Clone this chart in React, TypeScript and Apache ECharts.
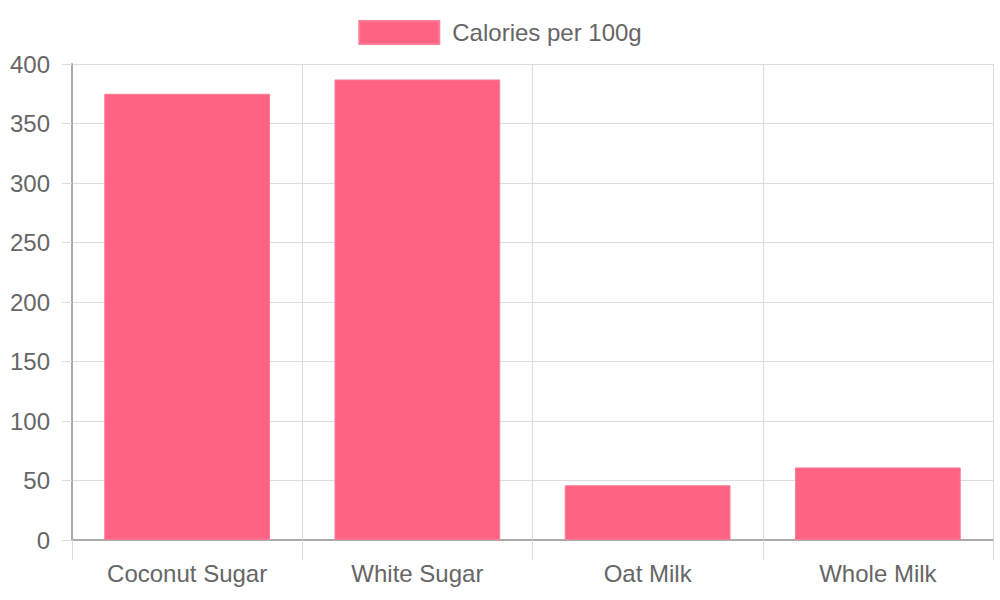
import React, { useEffect, useRef } from "react";
import * as echarts from "echarts";

const categories = ["Coconut Sugar", "White Sugar", "Oat Milk", "Whole Milk"];
const calories = [375, 387, 46, 61];
const seriesName = "Calories per 100g";

export default function App() {
  const ref = useRef<HTMLDivElement>(null);
  useEffect(() => {
    document.body.style.margin = "0";
    const chart = echarts.init(ref.current!, null, { renderer: "svg" });
    const font = "'Liberation Sans', Arial, sans-serif";
    chart.setOption({
      animation: false,
      textStyle: { fontFamily: font },
      legend: {
        top: 15,
        left: "center",
        itemWidth: 80,
        itemHeight: 23,
        icon: "rect",
        textStyle: { fontSize: 24, color: "#666", fontFamily: font, padding: [0, 0, 0, 8] },
        data: [seriesName],
      },
      grid: { left: 72, right: 7, top: 64, bottom: 60, containLabel: false },
      xAxis: {
        type: "category",
        data: categories,
        boundaryGap: true,
        axisLine: { show: true, lineStyle: { color: "#aaa", width: 2 } },
        axisTick: { show: true, interval: 0, length: 20, lineStyle: { color: "#ddd" } },
        splitLine: { show: true, interval: 0, lineStyle: { color: "#ddd" } },
        axisLabel: { fontSize: 24, color: "#666", margin: 21, fontFamily: font },
      },
      yAxis: {
        type: "value",
        min: 0,
        max: 400,
        interval: 50,
        axisLine: { show: true, lineStyle: { color: "#aaa", width: 2 } },
        axisTick: { show: true, length: 10, lineStyle: { color: "#ddd" } },
        splitLine: { show: true, lineStyle: { color: "#ddd" } },
        axisLabel: { fontSize: 24, color: "#666", margin: 22, fontFamily: font },
      },
      series: [
        {
          name: seriesName,
          type: "bar",
          data: calories,
          barCategoryGap: "28%",
          itemStyle: { color: "#ff6384", borderColor: "#ff7d98", borderWidth: 1 },
        },
      ],
    });
    return () => chart.dispose();
  }, []);
  return <div ref={ref} style={{ width: 1000, height: 600 }} />;
}
